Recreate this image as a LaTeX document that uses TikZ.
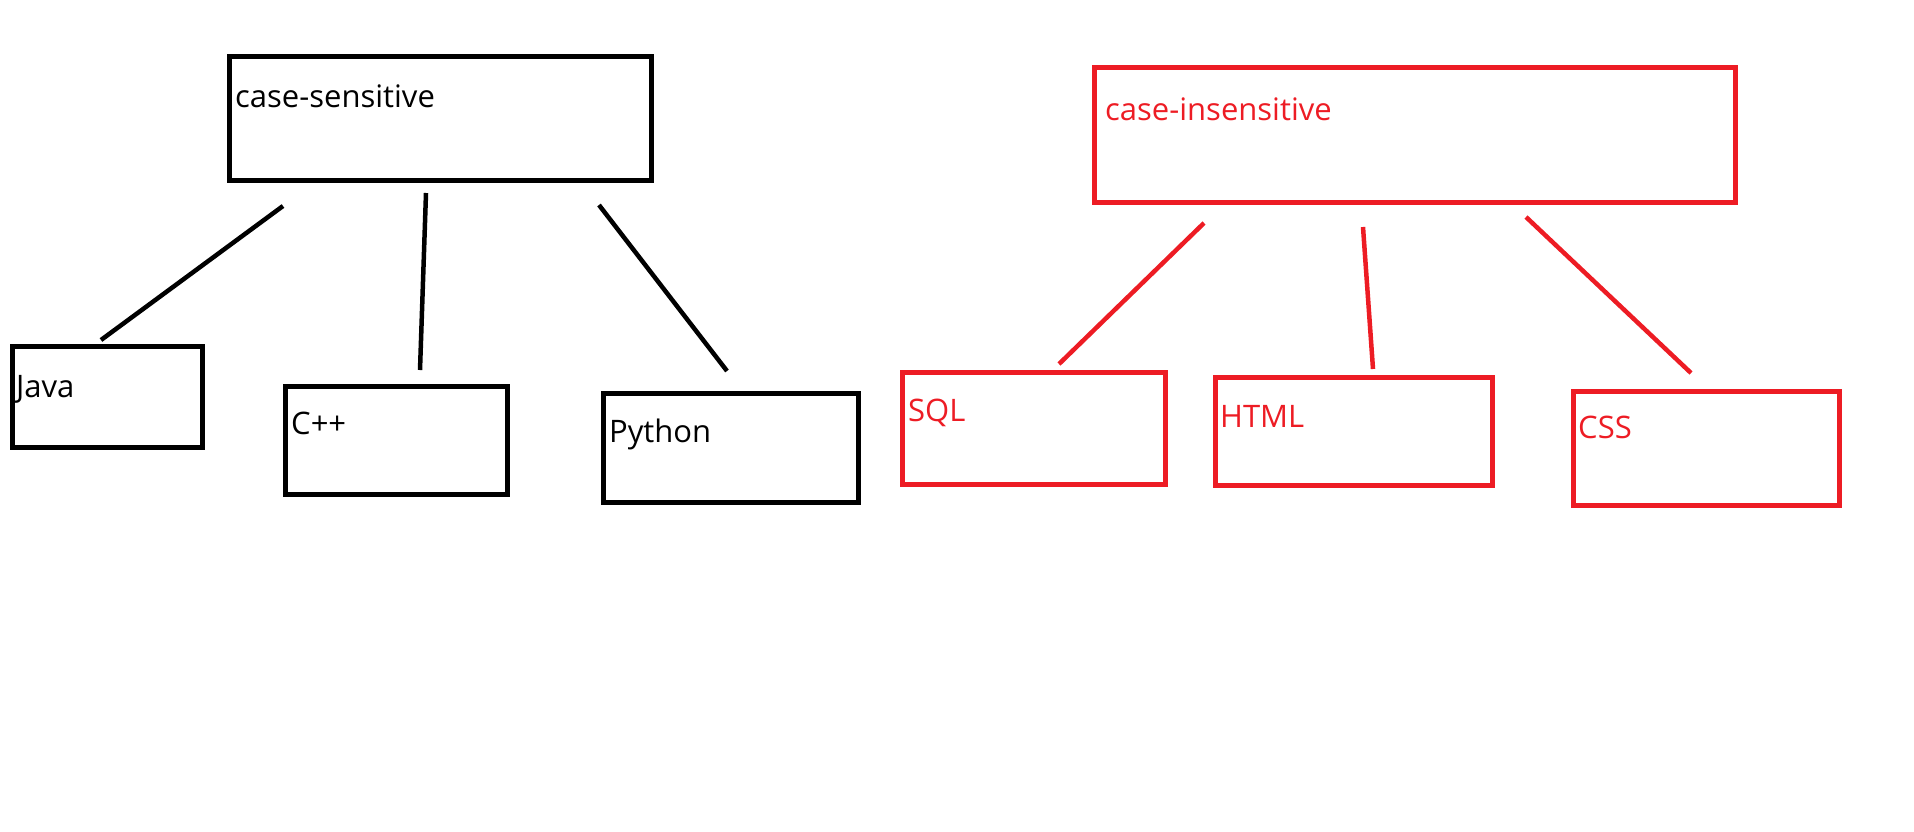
\documentclass[tikz,border=0pt]{standalone}
\usepackage{fontspec}
\setmainfont{Open Sans}
\usepackage{xcolor}
\usepackage{tikz}
\definecolor{paintred}{HTML}{ED1C24}

\begin{document}
\begin{tikzpicture}[x=1pt, y=-1pt, line join=miter,
  box/.style={draw, line width=5pt, anchor=north west, inner sep=0pt, outer sep=0pt},
  boxtext/.style={anchor=base west, inner sep=0pt, font=\fontsize{31}{36}\selectfont},
  link/.style={line width=4.5pt}]

  \useasboundingbox (0,0) rectangle (1914,831);

  % Draw case-sensitive group
  \node[box, minimum width=422pt, minimum height=124pt,
    label={[boxtext, xshift=6pt, yshift=-51pt]north west:case-sensitive}] (sens) at (229,56) {};
  \node[box, minimum width=190pt, minimum height=101pt,
    label={[boxtext, xshift=4pt, yshift=-51pt]north west:Java}] (java) at (12,346) {};
  \node[box, minimum width=222pt, minimum height=108pt,
    label={[boxtext, xshift=6pt, yshift=-48pt]north west:C++}] (cpp) at (285,386) {};
  \node[box, minimum width=255pt, minimum height=109pt,
    label={[boxtext, xshift=6pt, yshift=-49pt]north west:Python}] (python) at (603,393) {};

  % Draw case-insensitive group
  \begin{scope}[paintred]
  \node[box, minimum width=641pt, minimum height=135pt,
    label={[boxtext, paintred, xshift=11pt, yshift=-53pt]north west:case-insensitive}] (insens) at (1094,67) {};
  \node[box, minimum width=263pt, minimum height=112pt,
    label={[boxtext, paintred, xshift=6pt, yshift=-49pt]north west:SQL}] (sql) at (902,372) {};
  \node[box, minimum width=277pt, minimum height=108pt,
    label={[boxtext, paintred, xshift=5pt, yshift=-50pt]north west:HTML}] (html) at (1215,377) {};
  \node[box, minimum width=266pt, minimum height=114pt,
    label={[boxtext, paintred, xshift=5pt, yshift=-47pt]north west:CSS}] (css) at (1573,391) {};
  \end{scope}

  % Free ends of the links
  \coordinate (sens-java) at (283,206);   \coordinate (java-top) at (101,340);
  \coordinate (sens-cpp) at (426,193);    \coordinate (cpp-top) at (420,370);
  \coordinate (sens-python) at (599,205); \coordinate (python-top) at (727,371);
  \coordinate (insens-sql) at (1204,223);  \coordinate (sql-top) at (1059,364);
  \coordinate (insens-html) at (1363,227); \coordinate (html-top) at (1373,369);
  \coordinate (insens-css) at (1526,217);  \coordinate (css-top) at (1691,373);

  % Draw links
  \draw[link] (sens-java) -- (java-top);
  \draw[link] (sens-cpp) -- (cpp-top);
  \draw[link] (sens-python) -- (python-top);
  \draw[link, paintred] (insens-sql) -- (sql-top);
  \draw[link, paintred] (insens-html) -- (html-top);
  \draw[link, paintred] (insens-css) -- (css-top);

\end{tikzpicture}
\end{document}
